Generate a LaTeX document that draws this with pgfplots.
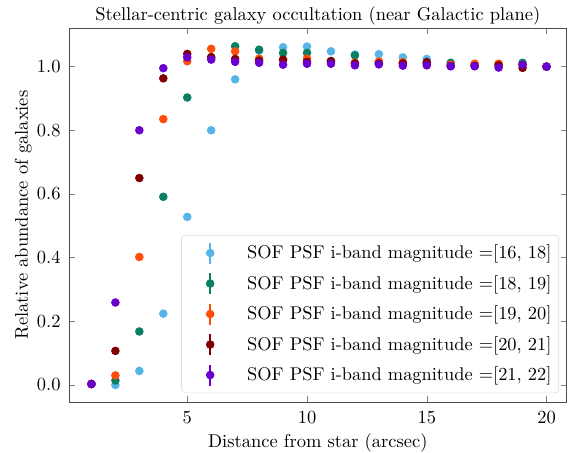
\documentclass[border=0pt]{standalone}
\usepackage{pgfplots}
\pgfplotsset{compat=1.18}
\usepackage{pgfplotstable}
\definecolor{cA}{HTML}{56B4E9}
\definecolor{cB}{HTML}{0B7F62}
\definecolor{cC}{HTML}{FF4D0A}
\definecolor{cD}{HTML}{800000}
\definecolor{cE}{HTML}{6A00CF}
\pgfplotstableread{
x a b c d e
1 0.003 0.003 0.003 0.003 0.003
2 0.000 0.014 0.030 0.107 0.259
3 0.044 0.168 0.402 0.650 0.800
4 0.224 0.591 0.835 0.963 0.995
5 0.528 0.903 1.017 1.040 1.029
6 0.800 1.028 1.056 1.030 1.022
7 0.960 1.064 1.048 1.024 1.015
8 1.050 1.053 1.025 1.019 1.012
9 1.061 1.043 1.020 1.022 1.006
10 1.063 1.043 1.025 1.015 1.009
11 1.048 1.018 1.015 1.017 1.009
12 1.038 1.035 1.012 1.010 1.004
13 1.039 1.012 1.016 1.010 1.007
14 1.029 1.010 1.014 1.010 1.003
15 1.024 1.010 1.012 1.014 1.004
16 1.008 1.012 1.006 1.002 1.001
17 1.005 1.006 1.009 1.002 1.001
18 1.004 1.008 1.009 1.004 0.997
19 1.006 1.012 1.006 0.996 1.006
20 1.000 1.000 1.000 1.000 1.000
}\data
\begin{document}
\begin{tikzpicture}
\begin{axis}[
  scale only axis,
  width=269.3pt, height=202.5pt,
  xmin=0.06, xmax=20.84,
  ymin=-0.054, ymax=1.1216,
  xtick={5,10,15,20},
  ytick={0,0.2,0.4,0.6,0.8,1.0},
  yticklabel style={xshift=-1pt, /pgf/number format/fixed, /pgf/number format/fixed zerofill, /pgf/number format/precision=1},
  xticklabel style={anchor=base, yshift=-11.4pt},
  tick align=inside,
  tick pos=both,
  major tick length=3.2pt,
  axis line style={black!70},
  every axis title shift=0pt,
  title={Stellar-centric galaxy occultation (near Galactic plane)},
  title style={at={(axis description cs:0.5,1.0198)}, anchor=base},
  xlabel={Distance from star (arcsec)},
  ylabel={Relative abundance of galaxies},
  xlabel style={at={(axis description cs:0.5,-0.12)}, anchor=base},
  ylabel style={at={(axis description cs:-0.0824,0.5)}, anchor=base},
  legend cell align=left,
  legend style={at={(0.985,0.447)}, anchor=north east, draw=black!12, rounded corners=2pt,
    nodes={inner sep=0pt}, /tikz/column sep=0pt,
    row sep=4.2pt, inner xsep=4pt, inner ysep=3.5pt, font=\fontsize{9.95}{12}\selectfont},
  legend image code/.code={
    \path[draw=none,fill=none] (-11.5pt,-5.8pt) rectangle (20pt,5.8pt);
    \path[draw,line width=0.9pt] (0pt,-5.7pt) -- (0pt,5.7pt);
    \path[fill] (0pt,0pt) circle (2.1pt);
  },
]
\addplot[only marks, mark=*, mark size=2.1pt, color=cA] table[x=x,y=a] {\data};
\addlegendentry{SOF PSF i-band magnitude =[16, 18]}
\addplot[only marks, mark=*, mark size=2.1pt, color=cB] table[x=x,y=b] {\data};
\addlegendentry{SOF PSF i-band magnitude =[18, 19]}
\addplot[only marks, mark=*, mark size=2.1pt, color=cC] table[x=x,y=c] {\data};
\addlegendentry{SOF PSF i-band magnitude =[19, 20]}
\addplot[only marks, mark=*, mark size=2.1pt, color=cD] table[x=x,y=d] {\data};
\addlegendentry{SOF PSF i-band magnitude =[20, 21]}
\addplot[only marks, mark=*, mark size=2.1pt, color=cE] table[x=x,y=e] {\data};
\addlegendentry{SOF PSF i-band magnitude =[21, 22]}
\end{axis}
\pgfresetboundingbox
\path (current axis.south west) ++(-37.3pt,-27.4pt) rectangle ([shift={(2.9pt,15.1pt)}]current axis.north east);
\end{tikzpicture}
\end{document}
